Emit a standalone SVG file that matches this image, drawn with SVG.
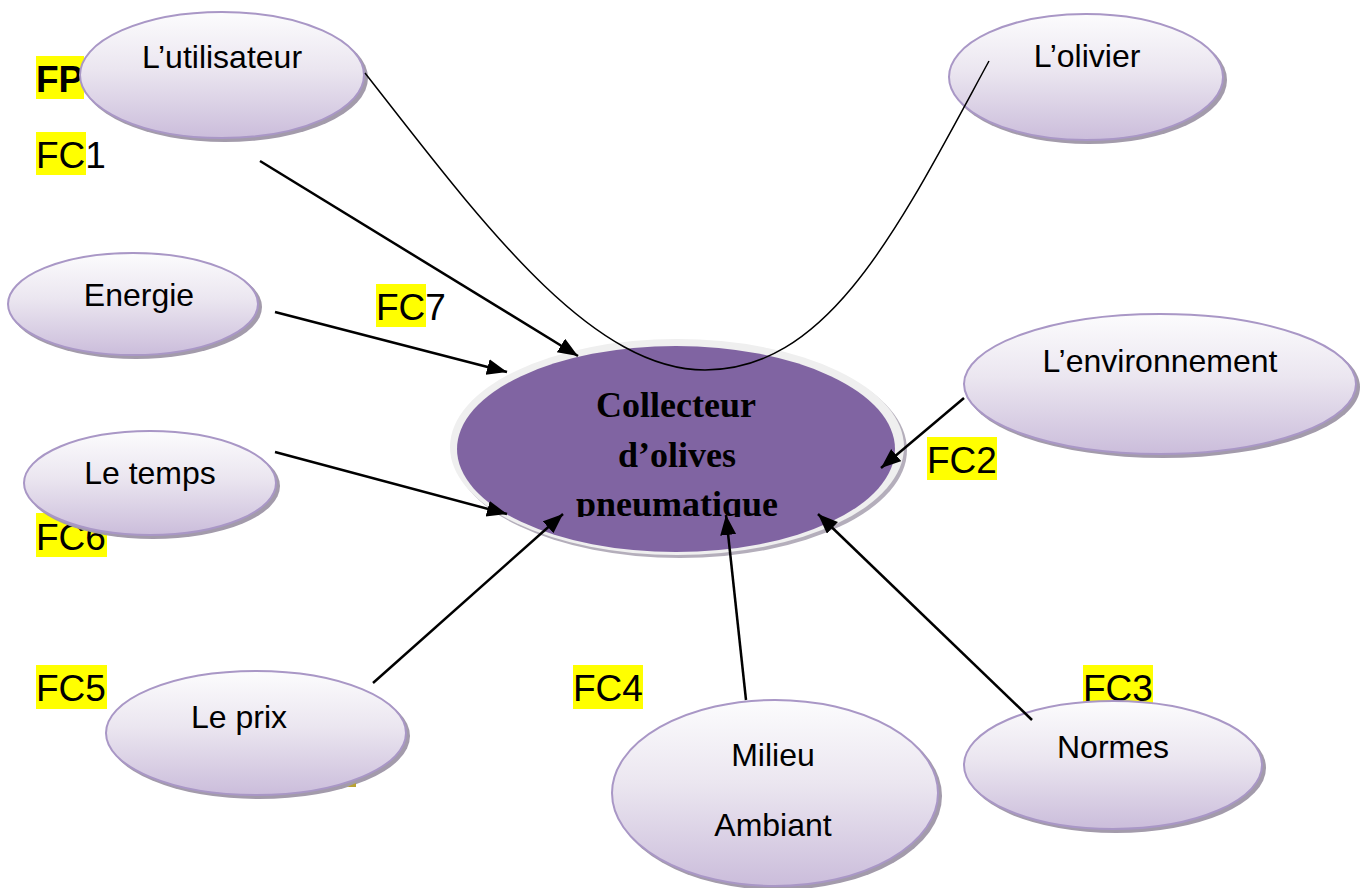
<svg xmlns="http://www.w3.org/2000/svg" width="1367" height="888" viewBox="0 0 1367 888">
  <defs>
    <linearGradient id="nodeFill" x1="0" y1="0" x2="0" y2="1">
      <stop offset="0" stop-color="#fcfcfd"/>
      <stop offset="0.45" stop-color="#ebe6f0"/>
      <stop offset="1" stop-color="#cbbddb"/>
    </linearGradient>
    <marker id="arrow" markerUnits="userSpaceOnUse" markerWidth="22" markerHeight="18" refX="20" refY="8" orient="auto">
      <path d="M0,0 L20,8 L0,16 z" fill="#000"/>
    </marker>
    <clipPath id="centerClip">
      <rect x="440" y="330" width="480" height="187"/>
    </clipPath>
  </defs>
  <style>
    .shadow { fill: #a39bab; }
    .node { fill: url(#nodeFill); stroke: #a997c6; stroke-width: 2; }
    .lbl { font-family: "Liberation Sans", Arial, sans-serif; font-size: 32px; fill: #000; text-anchor: middle; }
    .fc { font-family: "Liberation Sans", Arial, sans-serif; font-size: 37px; fill: #000; }
    .hl { fill: #ffff00; }
    .conn { fill: none; stroke: #000; stroke-width: 2.5; marker-end: url(#arrow); }
    .curve { fill: none; stroke: #000; stroke-width: 1.5; }
    .center-text { font-family: "Liberation Serif", "Times New Roman", serif; font-size: 36px; font-weight: bold; fill: #000; text-anchor: middle; }
  </style>

  <rect width="1367" height="888" fill="#fff"/>

  <!-- function labels (some sit partly behind the ellipses) -->
  <g id="labels">
    <rect class="hl" x="36" y="56" width="48" height="43"/>
    <text class="fc" x="36" y="92" font-weight="bold">FP</text>
    <rect class="hl" x="36" y="132" width="50" height="43"/>
    <text class="fc" x="36" y="168">FC1</text>
    <rect class="hl" x="376" y="284" width="50" height="43"/>
    <text class="fc" x="376" y="320">FC7</text>
    <rect class="hl" x="927" y="437" width="70" height="43"/>
    <text class="fc" x="927" y="473">FC2</text>
    <rect class="hl" x="36" y="513" width="71" height="44"/>
    <text class="fc" x="36" y="550">FC6</text>
    <rect class="hl" x="36" y="665" width="71" height="44"/>
    <text class="fc" x="36" y="701">FC5</text>
    <rect class="hl" x="573" y="665" width="70" height="44"/>
    <text class="fc" x="573" y="701">FC4</text>
    <rect class="hl" x="1083" y="665" width="70" height="44"/>
    <text class="fc" x="1083" y="701">FC3</text>
  </g>

  <g id="node-utilisateur">
    <ellipse class="shadow" cx="225" cy="78" rx="143" ry="64"/>
    <ellipse class="node" cx="222" cy="75" rx="142" ry="63"/>
    <text class="lbl" x="222" y="68">L’utilisateur</text>
  </g>

  <g id="node-olivier">
    <ellipse class="shadow" cx="1089" cy="80" rx="138" ry="64"/>
    <ellipse class="node" cx="1086" cy="77" rx="137" ry="63"/>
    <text class="lbl" x="1087" y="67">L’olivier</text>
  </g>

  <g id="node-energie">
    <ellipse class="shadow" cx="136" cy="307" rx="126" ry="52"/>
    <ellipse class="node" cx="133" cy="304" rx="125" ry="51"/>
    <text class="lbl" x="139" y="306">Energie</text>
  </g>

  <g id="node-temps">
    <ellipse class="shadow" cx="153" cy="486" rx="127" ry="53"/>
    <ellipse class="node" cx="150" cy="483" rx="126" ry="52"/>
    <text class="lbl" x="150" y="484">Le temps</text>
  </g>

  <g id="node-environnement">
    <ellipse class="shadow" cx="1163" cy="387" rx="197" ry="71"/>
    <ellipse class="node" cx="1160" cy="384" rx="196" ry="70"/>
    <text class="lbl" x="1160" y="372">L’environnement</text>
  </g>

  <g id="node-prix">
    <ellipse class="shadow" cx="259" cy="736" rx="151" ry="63"/>
    <ellipse class="node" cx="256" cy="733" rx="150" ry="62"/>
    <polygon points="347,787 356,783 356,787" fill="#b9a233"/>
    <text class="lbl" x="239" y="728">Le prix</text>
  </g>

  <g id="node-milieu">
    <ellipse class="shadow" cx="778" cy="796" rx="164" ry="94"/>
    <ellipse class="node" cx="775" cy="793" rx="163" ry="93"/>
    <text class="lbl" x="773" y="766">Milieu</text>
    <text class="lbl" x="773" y="836">Ambiant</text>
  </g>

  <g id="node-normes">
    <ellipse class="shadow" cx="1116" cy="768" rx="150" ry="65"/>
    <ellipse class="node" cx="1113" cy="765" rx="149" ry="64"/>
    <text class="lbl" x="1113" y="758">Normes</text>
  </g>

  <g id="node-collecteur">
    <ellipse cx="680" cy="450" rx="227" ry="108" fill="#b4aebb"/>
    <ellipse cx="677" cy="447" rx="227" ry="108" fill="#efefef"/>
    <ellipse cx="676" cy="449" rx="219" ry="103" fill="#8064a2"/>
    <g clip-path="url(#centerClip)">
      <text class="center-text" x="676" y="417">Collecteur</text>
      <text class="center-text" x="677" y="467">d’olives</text>
      <text class="center-text" x="677" y="516">pneumatique</text>
    </g>
  </g>

  <g id="connectors">
    <path class="curve" d="M365,73 C480,220 590,370 705,370 C830,370 900,225 989,61"/>
    <line class="conn" x1="260" y1="161" x2="578" y2="356"/>
    <line class="conn" x1="275" y1="312" x2="507" y2="372"/>
    <line class="conn" x1="275" y1="452" x2="507" y2="514"/>
    <line class="conn" x1="373" y1="683" x2="563" y2="514"/>
    <line class="conn" x1="746" y1="700" x2="726" y2="515"/>
    <line class="conn" x1="1032" y1="720" x2="818" y2="514"/>
    <line class="conn" x1="964" y1="398" x2="881" y2="468"/>
  </g>
</svg>
